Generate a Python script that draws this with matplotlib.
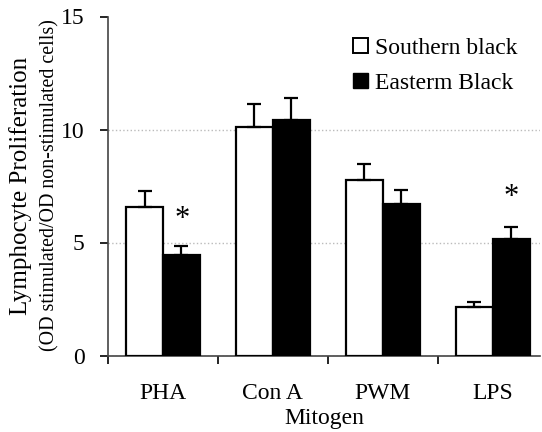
import numpy as np
import matplotlib
matplotlib.use('Agg')
import matplotlib.pyplot as plt
from matplotlib.patches import Patch

#DATOS
mitogens = ['PHA', 'Con A', 'PWM', 'LPS']
southern = [6.58, 10.12, 7.75, 2.15]
southern_err = [0.71, 1.00, 0.72, 0.20]
eastern = [4.43, 10.43, 6.69, 5.15]
eastern_err = [0.43, 0.97, 0.63, 0.52]
star_pos = [(0.17, 6.0), (3.17, 7.0)]

plt.rcParams['font.family'] = ['Liberation Serif', 'DejaVu Serif']

fig = plt.figure(figsize=(5.42, 4.32), dpi=100)
ax = fig.add_axes([108/542, 1 - 355.5/432, 432/542, 339/432])

x = np.arange(len(mitogens))
w = 0.335
ax.bar(x - w/2, southern, w, color='white', edgecolor='black', linewidth=1.6, zorder=3)
ax.bar(x + w/2, eastern, w, color='black', edgecolor='black', linewidth=1.6, zorder=3)
ax.errorbar(x - w/2, southern, yerr=[np.zeros(4), southern_err], fmt='none',
            ecolor='black', elinewidth=1.6, capsize=5, capthick=1.6, zorder=4)
ax.errorbar(x + w/2, eastern, yerr=[np.zeros(4), eastern_err], fmt='none',
            ecolor='black', elinewidth=1.6, capsize=5, capthick=1.6, zorder=4)

for sx, sy in star_pos:
    ax.text(sx, sy, '*', ha='center', va='center', fontsize=22)

ax.set_ylim(0, 15)
ax.set_xlim(-0.5, 3.43)
ax.set_yticks([0, 5, 10, 15])
ax.yaxis.grid(True, color='#bbbbbb', linestyle=':', linewidth=1.0, zorder=0)
ax.yaxis.get_gridlines()[-1].set_visible(False)
ax.set_xticks([-0.5, 0.5, 1.5, 2.5])
ax.set_xticklabels([])
ax.set_xticks(x, minor=True)
ax.set_xticklabels(mitogens, minor=True, fontsize=17)
ax.tick_params(axis='x', which='minor', length=0, pad=20)
ax.tick_params(axis='x', which='major', length=6, width=1.2, direction='out')
ax.tick_params(axis='y', length=6, width=1.2, direction='out', labelsize=17, pad=11)
for s in ['top', 'right']:
    ax.spines[s].set_visible(False)
for s in ['left', 'bottom']:
    ax.spines[s].set_linewidth(1.2)
    ax.spines[s].set_color('#444444')

ax.set_xlabel('Mitogen', fontsize=17, labelpad=3)
fig.text(21/542, 1 - 186/432, 'Lymphocyte Proliferation', rotation=90, ha='center', va='center', fontsize=18)
fig.text(50/542, 1 - 185/432, '(OD stimulated/OD non-stimulated cells)', rotation=90, ha='center', va='center', fontsize=14.4)

handles = [Patch(facecolor='white', edgecolor='black', linewidth=1.4, label='Southern black'),
           Patch(facecolor='black', edgecolor='black', label='Easterm Black')]
fig.legend(handles=handles, loc='upper left', bbox_to_anchor=(353/542, 1 - 38/432), frameon=False,
           fontsize=17, handlelength=0.65, handleheight=0.6, handletextpad=0.3, labelspacing=0.6,
           borderpad=0, borderaxespad=0)

fig.savefig('out.png', dpi=100)
